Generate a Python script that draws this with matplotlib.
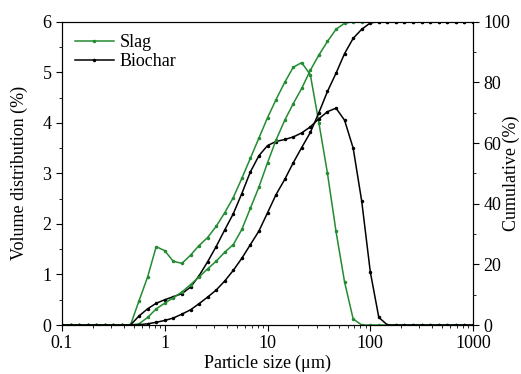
import matplotlib.pyplot as plt

# particle size classes (um)
size = [0.1, 0.121, 0.147, 0.178, 0.215, 0.261, 0.316, 0.383, 0.464, 0.562,
        0.681, 0.825, 1.0, 1.21, 1.47, 1.78, 2.15, 2.61, 3.16, 3.83,
        4.64, 5.62, 6.81, 8.25, 10, 12.1, 14.7, 17.8, 21.5, 26.1,
        31.6, 38.3, 46.4, 56.2, 68.1, 82.5, 100, 121, 147, 178,
        215, 261, 316, 383, 464, 562, 681, 825, 1000]

# volume distribution (%)
slag_vol = [0, 0, 0, 0, 0, 0, 0, 0, 0, 0.48,
            0.95, 1.55, 1.47, 1.26, 1.22, 1.38, 1.57, 1.73, 1.95, 2.22,
            2.52, 2.9, 3.3, 3.7, 4.1, 4.46, 4.8, 5.1, 5.19, 4.95,
            4.0, 3.0, 1.85, 0.85, 0.12, 0, 0, 0, 0, 0,
            0, 0, 0, 0, 0, 0, 0, 0, 0]
biochar_vol = [0, 0, 0, 0, 0, 0, 0, 0, 0, 0.18,
               0.32, 0.43, 0.5, 0.56, 0.62, 0.75, 0.97, 1.25, 1.55, 1.88,
               2.2, 2.6, 3.03, 3.35, 3.55, 3.63, 3.67, 3.72, 3.8, 3.92,
               4.08, 4.22, 4.29, 4.05, 3.5, 2.45, 1.05, 0.15, 0, 0,
               0, 0, 0, 0, 0, 0, 0, 0, 0]

# cumulative (%)
slag_cum = [0, 0, 0, 0, 0, 0, 0, 0, 0, 0.4,
            2.5, 5.3, 7.2, 9.0, 10.9, 13.3, 15.8, 18.5, 21.0, 24.0,
            26.5, 31.5, 38.5, 45.5, 53.5, 61, 67.5, 73, 78, 84,
            89, 93.5, 97.5, 99.5, 100, 100, 100, 100, 100, 100,
            100, 100, 100, 100, 100, 100, 100, 100, 100]
biochar_cum = [0, 0, 0, 0, 0, 0, 0, 0, 0, 0.1,
               0.4, 0.9, 1.5, 2.3, 3.6, 5.0, 7.0, 9.2, 11.5, 14.5,
               18, 22, 26.5, 31, 37, 43, 48, 53.5, 58.5, 63.5,
               70, 77, 83, 89.5, 94.5, 97.5, 99.6, 100, 100, 100,
               100, 100, 100, 100, 100, 100, 100, 100, 100]

green = '#238b32'
plt.rcParams['font.family'] = ['Liberation Serif', 'DejaVu Serif']
plt.rcParams['mathtext.fontset'] = 'stix'

fig = plt.figure(figsize=(5.21, 3.74), dpi=100)
ax = fig.add_axes([0.119, 0.131, 0.789, 0.811])
ax2 = ax.twinx()

style = dict(marker='o', markersize=1.5, linewidth=1.1)
ax.plot(size, slag_vol, color=green, label='Slag', **style)
ax.plot(size, biochar_vol, color='black', label='Biochar', **style)
ax2.plot(size, slag_cum, color=green, **style)
ax2.plot(size, biochar_cum, color='black', **style)

ax.set_xscale('log')
ax.set_xlim(0.1, 1000)
ax.set_ylim(0, 6)
ax2.set_ylim(0, 100)
ax.set_xticks([0.1, 1, 10, 100, 1000])
ax.set_xticklabels(['0.1', '1', '10', '100', '1000'])
ax.set_yticks(range(7))
ax.set_yticks([0.5 + i for i in range(6)], minor=True)
ax2.set_yticks(range(0, 101, 20))
ax2.set_yticks(range(10, 100, 20), minor=True)

ax.set_xlabel('Particle size ($\\mathregular{\\mu}$m)', fontsize=13, labelpad=0)
ax.set_ylabel('Volume distribution (%)', fontsize=13)
ax2.set_ylabel('Cumulative (%)', fontsize=13)
ax.yaxis.set_label_coords(-0.083, 0.5)
ax2.yaxis.set_label_coords(1.073, 0.5)

for a in (ax, ax2):
    a.tick_params(which='both', direction='out', labelsize=13)
    a.tick_params(which='major', length=4)
    a.tick_params(which='minor', length=2.5)

ax.legend(loc='upper left', frameon=False, fontsize=13, handlelength=2.2,
          borderaxespad=0.3, labelspacing=0.1, handletextpad=0.3)

fig.savefig('out.png', dpi=100)
